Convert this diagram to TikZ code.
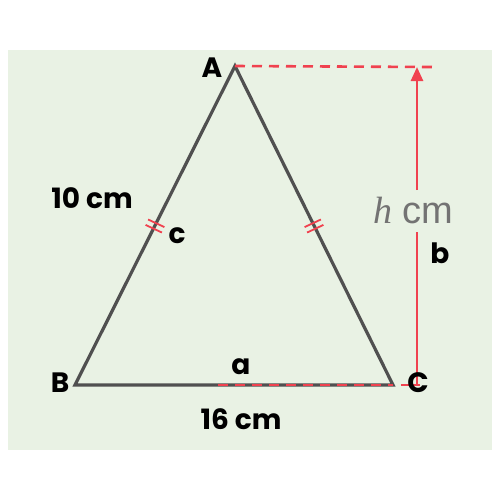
\documentclass[tikz,border=0pt]{standalone}
\usepackage{fontspec}
\setmainfont{Poppins}
\newfontfamily\lsans{Liberation Sans}
\newfontfamily\lserif{Liberation Serif}
\usetikzlibrary{arrows.meta}
\definecolor{bgc}{HTML}{E9F2E4}
\definecolor{redc}{HTML}{F0424F}
\definecolor{tric}{HTML}{505050}
\tikzset{
  lbl/.style={font=\fontsize{14}{16}\selectfont\bfseries, inner sep=0pt},
  redline/.style={draw=redc, line width=1.3pt},
  tick/.style={draw=redc, line width=0.9pt},
}
\begin{document}
\begin{tikzpicture}[x=0.5pt,y=-0.5pt]
\useasboundingbox (0,0) rectangle (500,500);
\fill[bgc] (8,50) rectangle (492,450);
\coordinate (A) at (235,66);
\coordinate (B) at (75,385);
\coordinate (C) at (393,385);
\coordinate (Ar) at (432,67);
\coordinate (Hb) at (417,385);
\coordinate (Ht) at (417,67);
\coordinate (Hg1) at (417,190);
\coordinate (Hg2) at (417,232);
\coordinate (Cr) at (420,385);
\coordinate (Dm) at (218,385);
% triangle
\draw[tric, line width=1.6pt, line join=miter] (A) -- (B) -- (C) -- cycle;
% red dashed lines
\draw[redline, dash pattern=on 5pt off 3.5pt] (A) -- (Ar);
\draw[redline, dash pattern=on 5pt off 3.5pt] (Dm) -- (C);
\draw[redline] ([xshift=4pt]C) -- (Cr);
% height arrow
\draw[redline] (Hb) -- (Hg2);
\draw[redline, -{Triangle[length=7pt,width=6pt]}] (Hg1) -- (Ht);
% tick marks
\foreach \px/\py/\a in {155/226/-25, 314/226/25}{
  \begin{scope}[shift={(\px,\py)}, rotate=\a]
    \draw[tick] (-9,-3) -- (9,-3);
    \draw[tick] (-9,3) -- (9,3);
  \end{scope}
}
% labels
\node[lbl] (lA) at (212,68) {A};
\node[lbl] (lB) at (60,383) {B};
\node[lbl] (lC) at (418,383) {C};
\node[lbl] (l10) at (92,198) {10 cm};
\node[lbl] (lc) at (177,236) {c};
\node[lbl] (lb) at (440,253) {b};
\node[lbl] (la) at (241,367) {a};
\node[lbl] (l16) at (241,419) {16 cm};
\node[inner sep=0pt, text=black!55, font=\fontsize{19}{21}\selectfont] (lh) at (413,210) {{\lserif\itshape h} \lsans cm};
\end{tikzpicture}
\end{document}
